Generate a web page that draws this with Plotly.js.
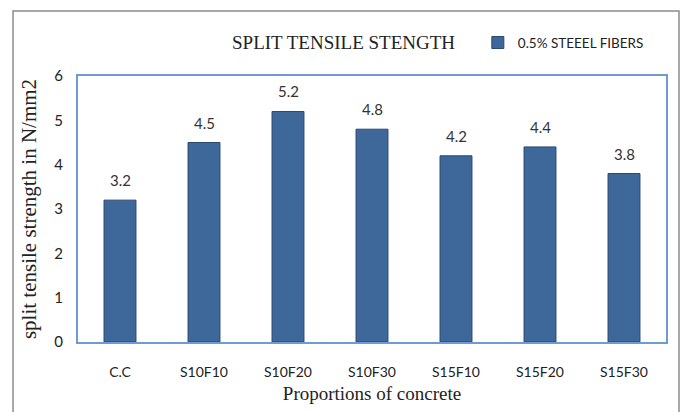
<!DOCTYPE html>
<html>
<head>
<meta charset="utf-8">
<script src="https://cdn.plot.ly/plotly-3.0.1.min.js"></script>
<style>
  html, body { margin: 0; padding: 0; background: #fff; }
  #chart { width: 683px; height: 412px; }
</style>
</head>
<body>
<div id="chart"></div>
<script>
const categories = ["C.C", "S10F10", "S10F20", "S10F30", "S15F10", "S15F20", "S15F30"];
const values = [3.2, 4.5, 5.2, 4.8, 4.2, 4.4, 3.8];
const yTicks = [0, 1, 2, 3, 4, 5, 6];
const seriesName = "0.5% STEEEL FIBERS";

const sans = "Lato, Open Sans, sans-serif";
const serif = "Liberation Serif, Times New Roman, serif";

const trace = {
  type: "bar",
  x: categories,
  y: values,
  name: seriesName,
  marker: { color: "#3d6899", line: { color: "#2a4870", width: 1 } },
  width: 0.38,
  showlegend: true,
  hoverinfo: "none"
};

const annotations = categories.map((c, i) => ({
  x: c, y: values[i], xref: "x", yref: "y",
  text: values[i].toFixed(1), showarrow: false,
  yanchor: "bottom", yshift: 9,
  font: { family: sans, size: 15, color: "#333333" }
}));

const layout = {
  width: 683, height: 412,
  margin: { l: 78, r: 17, t: 76, b: 70 },
  paper_bgcolor: "#ffffff",
  plot_bgcolor: "#ffffff",
  title: {
    text: "SPLIT TENSILE STENGTH",
    font: { family: serif, size: 19, color: "#222222" },
    x: 0.503, xanchor: "center", xref: "container",
    y: 0.897, yanchor: "middle", yref: "container"
  },
  showlegend: true,
  legend: {
    orientation: "h",
    x: 0.68, xanchor: "left",
    y: 1.125, yanchor: "middle",
    font: { family: sans, size: 13.5, color: "#222222" },
    itemwidth: 20,
    bgcolor: "rgba(0,0,0,0)"
  },
  xaxis: {
    type: "category",
    showgrid: false,
    showline: true, linecolor: "#6e9bd6", linewidth: 2, mirror: true,
    ticks: "", ticklabelstandoff: 16,
    tickfont: { family: sans, size: 14, color: "#222222" },
    title: { text: "Proportions of concrete", font: { family: serif, size: 19, color: "#222222" }, standoff: 8 },
    fixedrange: true
  },
  yaxis: {
    range: [0, 6],
    tickvals: yTicks,
    showgrid: false, zeroline: false,
    showline: true, linecolor: "#6e9bd6", linewidth: 2, mirror: true,
    ticks: "", ticklabelstandoff: 10,
    tickfont: { family: sans, size: 15, color: "#222222" },
    title: { text: "split tensile strength in N/mm2", font: { family: serif, size: 21, color: "#222222" }, standoff: 12 },
    fixedrange: true
  },
  annotations: annotations,
  shapes: [{
    type: "rect", xref: "paper", yref: "paper",
    x0: -0.1105, x1: 1.0221, y0: -0.30, y1: 1.2444,
    line: { color: "#8c8c8c", width: 1.5 }, fillcolor: "rgba(0,0,0,0)", layer: "below"
  }]
};

Plotly.newPlot("chart", [trace], layout, { displayModeBar: false, staticPlot: true });
</script>
</body>
</html>
